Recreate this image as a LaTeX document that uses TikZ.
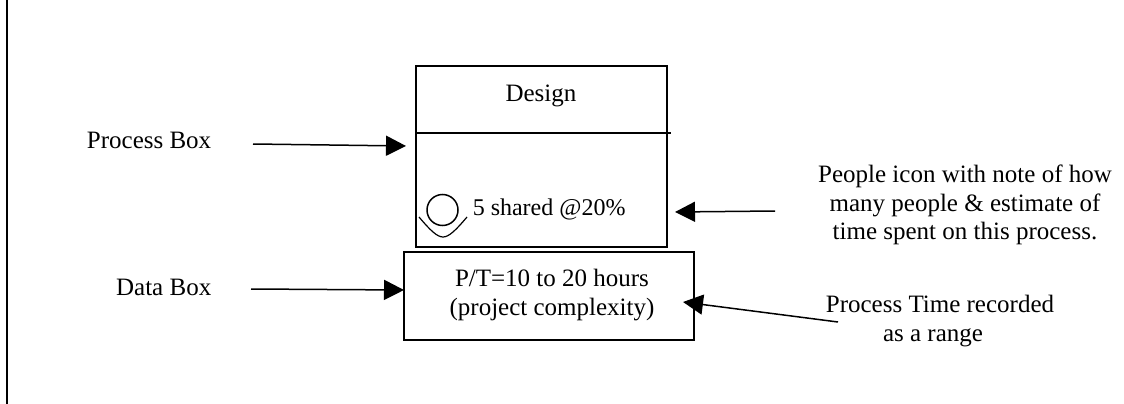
\documentclass[tikz,border=0pt]{standalone}
\usepackage{fontspec}
\setmainfont{Liberation Serif}
\usetikzlibrary{positioning,arrows.meta}
\tikzset{
    mapping/.style={
        x=1pt,
        y=-1pt,
        line width=1.5pt,
        % Stile per i riquadri
        stepbox/.style={draw, rectangle, anchor=north west, inner sep=0pt, outer sep=0pt},
        % Stile per le etichette
        caption/.style={align=center, inner sep=0pt,
                        font=\fontsize{25}{28.5}\selectfont},
        % Stile per le frecce
        pointer/.style={-{Triangle[length=20pt,width=20pt]}}
    }
}
\begin{document}
\begin{tikzpicture}[mapping]
    \useasboundingbox (0,0) rectangle (1124,404);
    \draw (7,0) -- (7,404);
    % Riquadri
    \node[stepbox, minimum width=251pt, minimum height=181pt] (process) at (416,66) {};
    \node[stepbox, minimum width=290pt, minimum height=88pt] (data) at (404,252) {};
    \coordinate (divider) at (671,133);
    \draw (process.west |- divider) -- (divider);
    \node[caption] (design) at (541,96) {Design};
    \node[caption, anchor=west, font=\fontsize{24}{28.5}\selectfont] (shared) at (472,209) {5 shared @20\%};
    \node[caption] (hours) at (552,295) {P/T=10 to 20 hours\\(project complexity)};
    % Icona
    \node[draw, circle, minimum size=31pt, inner sep=0pt, outer sep=0pt, left=14pt of shared, yshift=-1pt] (head) {};
    \draw[line width=1.2pt] (419,217) .. controls (430,230) and (437,237) .. (443,237)
        .. controls (449,237) and (456,230) .. (467,217);
    % Etichette
    \node[caption, anchor=east] (processlabel) at (212,140) {Process Box};
    \node[caption, anchor=east] (datalabel) at (212,287) {Data Box};
    \node[caption] (peoplelabel) at (965,205) {People icon with note of how\\many people \& estimate of\\time spent on this process.};
    \node[caption] (timelabel) at (940,321) {Process Time recorded\\as a range\hspace*{14pt}};
    % Frecce
    \coordinate (processtail) at (253,144);
    \coordinate (processtip) at (406,146);
    \coordinate (datatail) at (251,289);
    \coordinate (datatip) at (404,290);
    \coordinate (peopletail) at (775,211);
    \coordinate (peopletip) at (675,212);
    \coordinate (timetail) at (838,322);
    \coordinate (timetip) at (683,302);
    \draw[pointer] (processtail) -- (processtip);
    \draw[pointer] (datatail) -- (datatip);
    \draw[pointer] (peopletail) -- (peopletip);
    \draw[pointer] (timetail) -- (timetip);
\end{tikzpicture}
\end{document}
